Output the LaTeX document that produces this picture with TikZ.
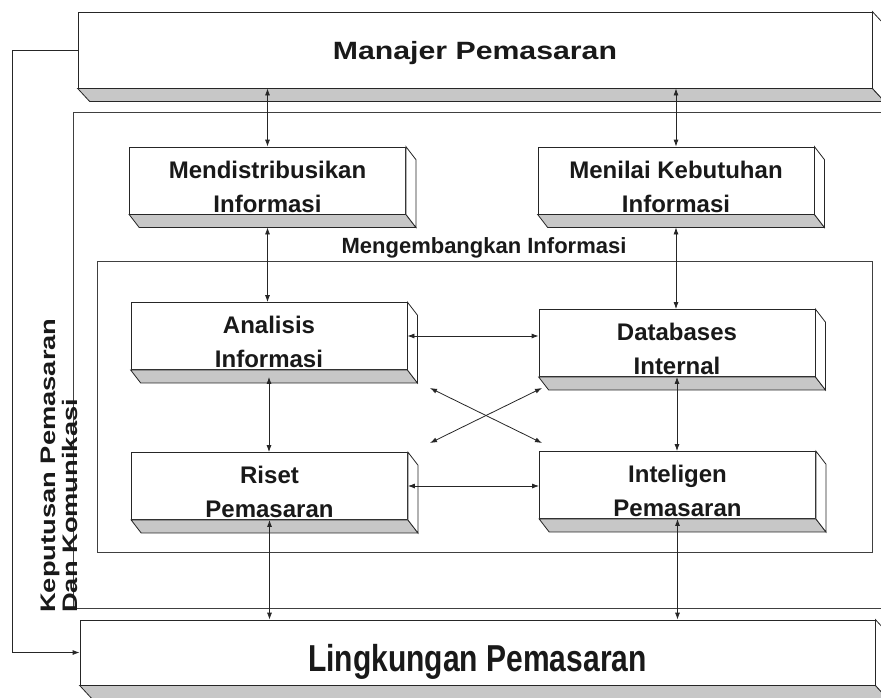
\documentclass[tikz,border=0pt]{standalone}
\usepackage{fontspec}
\setmainfont{Liberation Sans}
\usetikzlibrary{arrows.meta}

\tikzset{
    slab/.style={draw=black!85, fill=white, line width=0.8pt, inner sep=0pt, minimum width=276pt, minimum height=67pt,
        align=center, text height=63pt, text depth=0pt, font=\fontsize{24}{34}\selectfont\bfseries},
    bevel/.style={draw=black!85, fill=black!22, line width=0.8pt},
    side/.style={draw=black!85, fill=white, line width=0.8pt},
    frame/.style={draw=black!75, line width=0.7pt},
    link/.style={<->, draw=black!85, line width=0.8pt}
}

\begin{document}
\begin{tikzpicture}[x=1pt, y=-1pt, >={Latex[length=7pt,width=5pt]}, text=black!90]
                        \useasboundingbox (0,0) rectangle (881,697);
                        \fill[white] (0,0) rectangle (881,697);

                        \draw[frame] (73,112) rectangle (900,608);
                        \draw[frame] (97,261) rectangle (872,552);
                        \node[font=\fontsize{22}{26}\selectfont\bfseries, anchor=base] (dev) at (484,253) {Mengembangkan Informasi};

                        \node[slab, minimum width=794pt, minimum height=76pt, text height=18pt, font=\fontsize{25}{30}\selectfont\bfseries] (mgr) at (475,50) {\scalebox{1.21}[1]{Manajer Pemasaran}};
                        \node[slab, minimum width=795pt, minimum height=65pt, text height=37pt, font=\fontsize{30}{36}\selectfont\bfseries] (env) at (477.5,652.5) {\scalebox{1}[1.25]{Lingkungan Pemasaran}};

                        \node[slab] (dist) at (267.5,180.5) {Mendistribusikan\\Informasi};
                        \node[slab] (need) at (676,180.5) {Menilai Kebutuhan\\Informasi};
                        \node[slab] (ana) at (269,336) {Analisis\\Informasi};
                        \node[slab] (db) at (677,343) {Databases\\Internal};
                        \node[slab] (riset) at (269.5,486) {Riset\\Pemasaran};
                        \node[slab] (intel) at (677.5,485) {Inteligen\\Pemasaran};

                        \foreach \n/\d in {mgr/12, env/12, dist/10, need/10, ana/10, db/10, riset/10, intel/10} {
                            \draw[bevel] (\n.south west) -- ++(\d,13) -- ([shift={(\d,13)}]\n.south east) -- (\n.south east) -- cycle;
                            \draw[side] (\n.north east) -- ([shift={(\d,13)}]\n.north east) -- ([shift={(\d,13)}]\n.south east) -- (\n.south east) -- cycle;
                        }

                        \coordinate (x1) at (430,388);
                        \coordinate (x2) at (542,443);
                        \coordinate (x3) at (430,443);
                        \coordinate (x4) at (542,388);

                        \draw
                        (dist.north |- mgr.south) edge[link] (dist.north)
                        (need.north |- mgr.south) edge[link] (need.north)
                        ([yshift=-13pt]dist.south) edge[link] (ana.north -| dist.south)
                        ([yshift=-13pt]need.south) edge[link] (db.north -| need.south)
                        ([yshift=-7pt]ana.south) edge[link] (riset.north -| ana.south)
                        (db.south) edge[link] (intel.north -| db.south)
                        (ana.east) edge[link] (ana.east -| db.west)
                        (riset.east) edge[link] (riset.east -| intel.west)
                        (x1) edge[link] (x2)
                        (x3) edge[link] (x4)
                        (riset.south) edge[link] (env.north -| riset.south)
                        (intel.south) edge[link] (env.north -| intel.south);

                        \draw[->, draw=black!85, line width=0.8pt] (mgr.west) -- ++(-65,0) |- (env.west);

                        \node[rotate=90, anchor=south west, align=left, inner sep=0pt, text depth=0pt, font=\fontsize{21}{22}\selectfont\bfseries] (dec) at (78,613) {\scalebox{1.3}[1]{Keputusan Pemasaran}\\\scalebox{1.3}[1]{Dan Komunikasi}};
                    \end{tikzpicture}
\end{document}
